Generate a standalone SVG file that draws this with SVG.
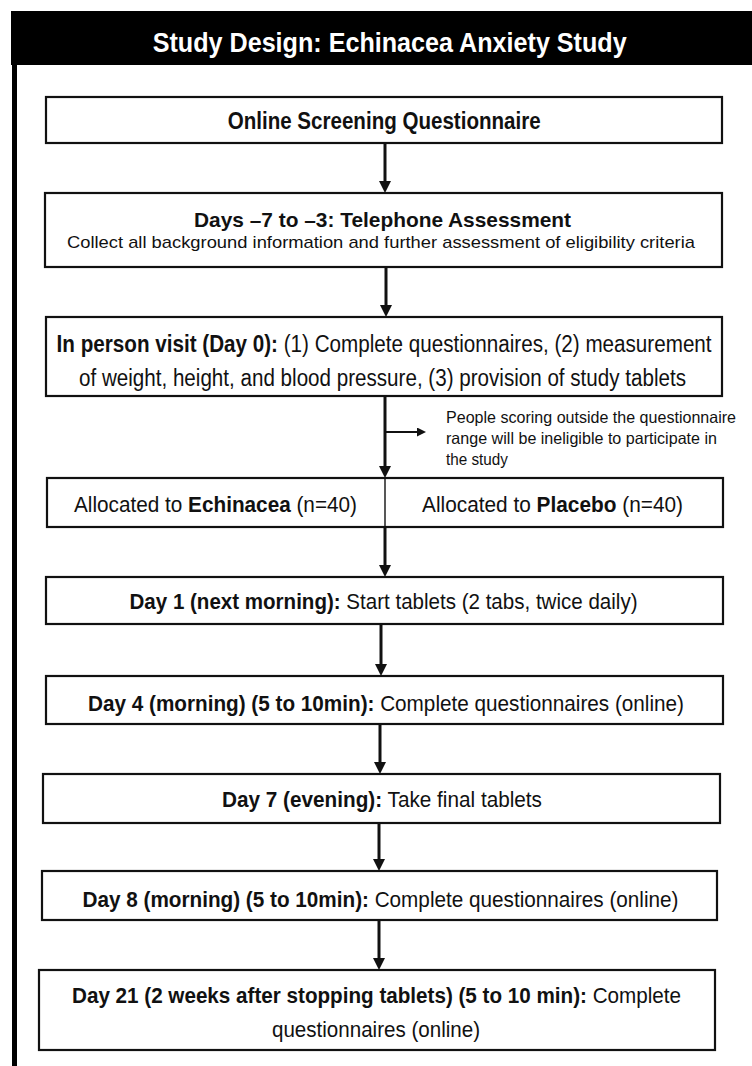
<svg xmlns="http://www.w3.org/2000/svg" width="752" height="1066" viewBox="0 0 752 1066">
  <style>
    text { font-family: "Liberation Sans", Arial, sans-serif; fill: #111; }
    .b { font-weight: bold; }
    .box { fill: #fff; stroke: #111; stroke-width: 2.2; }
    .title { fill: #fff; font-weight: bold; font-size: 28px; }
    .f23 { font-size: 23px; }
    .f22 { font-size: 22px; }
    .f21 { font-size: 21px; }
    .f17 { font-size: 17px; }
    .f16 { font-size: 16.5px; }
    .conn { stroke: #111; stroke-width: 3; fill: none; }
    .thin { stroke: #111; stroke-width: 2.2; fill: none; }
  </style>
  <defs>
    <marker id="ah" markerUnits="userSpaceOnUse" markerWidth="12" markerHeight="12" refX="4" refY="6" orient="auto">
      <path d="M0,0 L12,6 L0,12 z" fill="#111"/>
    </marker>
    <marker id="ahs" markerUnits="userSpaceOnUse" markerWidth="9" markerHeight="9" refX="3" refY="4.5" orient="auto">
      <path d="M0,0 L9,4.5 L0,9 z" fill="#111"/>
    </marker>
  </defs>
  <rect width="752" height="1066" fill="#fff"/>

  <g id="header">
    <rect x="11" y="11" width="741" height="54" fill="#000"/>
    <rect x="12" y="64" width="5" height="1002" fill="#000"/>
    <text class="title" x="152.7" y="51.7" textLength="474" lengthAdjust="spacingAndGlyphs">Study Design: Echinacea Anxiety Study</text>
  </g>

  <g id="connectors">
    <line class="conn" x1="385" y1="143" x2="385" y2="185" marker-end="url(#ah)"/>
    <line class="conn" x1="386" y1="267" x2="386" y2="309" marker-end="url(#ah)"/>
    <line class="conn" x1="385" y1="396" x2="385" y2="470" marker-end="url(#ah)"/>
    <line class="thin" x1="385" y1="432" x2="420" y2="432" marker-end="url(#ahs)"/>
    <line class="conn" x1="385" y1="527" x2="385" y2="569" marker-end="url(#ah)"/>
    <line class="conn" x1="381" y1="624" x2="381" y2="668" marker-end="url(#ah)"/>
    <line class="conn" x1="380" y1="724" x2="380" y2="766" marker-end="url(#ah)"/>
    <line class="conn" x1="379" y1="823" x2="379" y2="863" marker-end="url(#ah)"/>
    <line class="conn" x1="379" y1="920" x2="379" y2="962" marker-end="url(#ah)"/>
  </g>

  <g id="screening">
    <rect class="box" x="46" y="97" width="676" height="46"/>
    <text class="f23 b" x="227.7" y="129" textLength="313" lengthAdjust="spacingAndGlyphs">Online Screening Questionnaire</text>
  </g>

  <g id="telephone">
    <rect class="box" x="45" y="193" width="677" height="74"/>
    <text class="f21 b" x="194" y="226.5" textLength="377" lengthAdjust="spacingAndGlyphs">Days –7 to –3: Telephone Assessment</text>
    <text class="f17" x="67" y="248" textLength="628" lengthAdjust="spacingAndGlyphs">Collect all background information and further assessment of eligibility criteria</text>
  </g>

  <g id="visit">
    <rect class="box" x="46" y="317" width="676" height="79"/>
    <text class="f23" x="56.6" y="352" textLength="655" lengthAdjust="spacingAndGlyphs"><tspan class="b">In person visit (Day 0):</tspan> (1) Complete questionnaires, (2) measurement</text>
    <text class="f23" x="79" y="385.5" textLength="607" lengthAdjust="spacingAndGlyphs">of weight, height, and blood pressure, (3) provision of study tablets</text>
  </g>

  <g id="exclusion-note">
    <text class="f16" x="446" y="423" textLength="290" lengthAdjust="spacingAndGlyphs">People scoring outside the questionnaire</text>
    <text class="f16" x="446" y="444" textLength="271" lengthAdjust="spacingAndGlyphs">range will be ineligible to participate in</text>
    <text class="f16" x="446" y="465" textLength="62" lengthAdjust="spacingAndGlyphs">the study</text>
  </g>

  <g id="allocation">
    <rect class="box" x="47" y="478" width="676" height="49"/>
    <line x1="385" y1="478" x2="385" y2="527" stroke="#111" stroke-width="1.4"/>
    <text class="f22" x="74" y="512" textLength="283" lengthAdjust="spacingAndGlyphs">Allocated to <tspan class="b">Echinacea</tspan> (n=40)</text>
    <text class="f22" x="422" y="512" textLength="261" lengthAdjust="spacingAndGlyphs">Allocated to <tspan class="b">Placebo</tspan> (n=40)</text>
  </g>

  <g id="day1">
    <rect class="box" x="46" y="577" width="677" height="47"/>
    <text class="f22" x="129.5" y="608.5" textLength="508" lengthAdjust="spacingAndGlyphs"><tspan class="b">Day 1 (next morning):</tspan> Start tablets (2 tabs, twice daily)</text>
  </g>

  <g id="day4">
    <rect class="box" x="46" y="676" width="677" height="48"/>
    <text class="f22" x="88" y="711" textLength="596" lengthAdjust="spacingAndGlyphs"><tspan class="b">Day 4 (morning) (5 to 10min):</tspan> Complete questionnaires (online)</text>
  </g>

  <g id="day7">
    <rect class="box" x="43" y="774" width="677" height="49"/>
    <text class="f22" x="222" y="806.5" textLength="320" lengthAdjust="spacingAndGlyphs"><tspan class="b">Day 7 (evening):</tspan> Take final tablets</text>
  </g>

  <g id="day8">
    <rect class="box" x="42" y="871" width="675" height="49"/>
    <text class="f22" x="82.5" y="906.5" textLength="596" lengthAdjust="spacingAndGlyphs"><tspan class="b">Day 8 (morning) (5 to 10min):</tspan> Complete questionnaires (online)</text>
  </g>

  <g id="day21">
    <rect class="box" x="39" y="970" width="676" height="80"/>
    <text class="f22" x="72" y="1003" textLength="609" lengthAdjust="spacingAndGlyphs"><tspan class="b">Day 21 (2 weeks after stopping tablets) (5 to 10 min):</tspan> Complete</text>
    <text class="f22" x="272" y="1036.5" textLength="208" lengthAdjust="spacingAndGlyphs">questionnaires (online)</text>
  </g>
</svg>
